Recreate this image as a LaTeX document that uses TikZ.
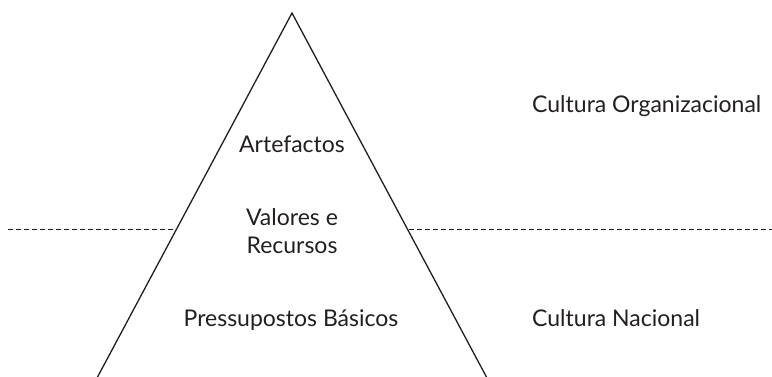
\documentclass[tikz,border=0pt]{standalone}
\usepackage{fontspec}
\setmainfont{Lato}
\definecolor{ink}{HTML}{231F20}
\begin{document}
\begin{tikzpicture}[x=1pt,y=-1pt,
  lbl/.style={text=ink,font=\fontsize{23}{28}\selectfont,inner sep=0pt,anchor=base},
  edge/.style={draw=ink,line width=1.3pt},
  sep/.style={draw=ink,line width=0.9pt,dash pattern=on 4.5pt off 3.5pt}]
\useasboundingbox (0,0) rectangle (772,376);
\coordinate (apex) at (292,13);
\coordinate (bl) at (97,378);
\coordinate (br) at (487,378);
\draw[edge] (bl) -- (apex) -- (br);
\coordinate (dl) at (8,229);
\coordinate (dlt) at (176,229);
\coordinate (drt) at (409,229);
\coordinate (dr) at (772,229);
\draw[sep] (dl) -- (dlt);
\draw[sep] (drt) -- (dr);
\node[lbl] (art) at (292,152) {Artefactos};
\node[lbl] (val) at (292,225) {Valores e};
\node[lbl] (rec) at (292,253) {Recursos};
\node[lbl] (pre) at (291,326) {Pressupostos Básicos};
\node[lbl,anchor=base west] (org) at (532,112) {Cultura Organizacional};
\node[lbl,anchor=base west] (nac) at (532,326) {Cultura Nacional};
\end{tikzpicture}
\end{document}
